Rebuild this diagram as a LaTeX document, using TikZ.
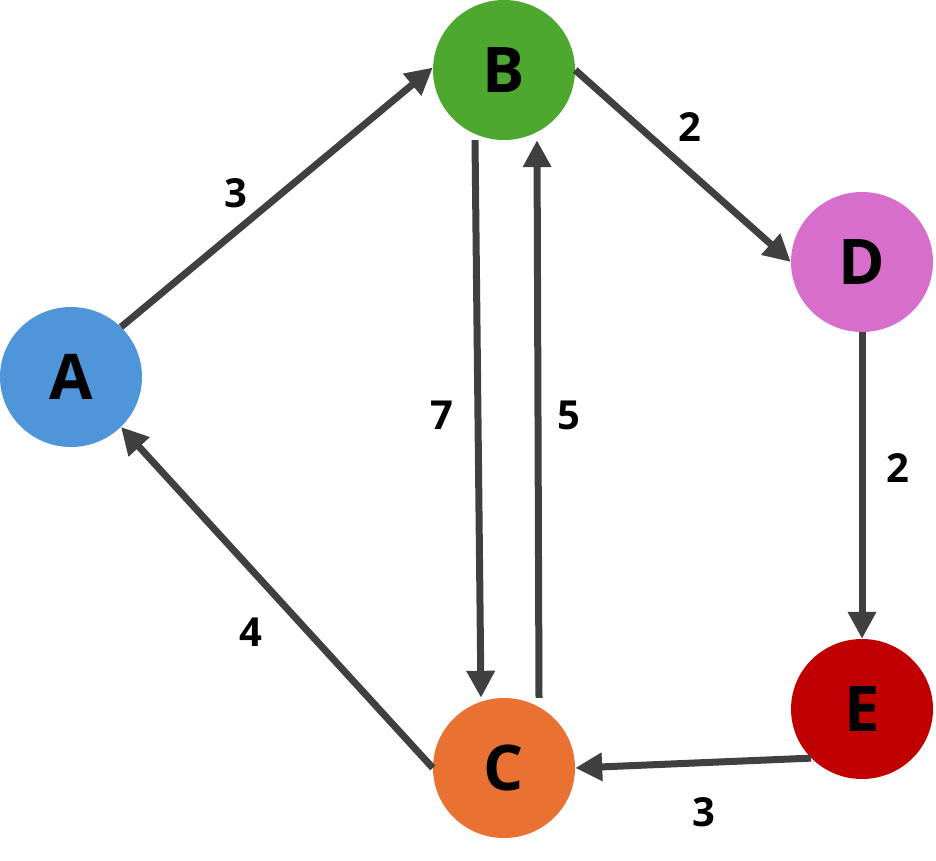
\documentclass[tikz,border=0pt]{standalone}
\usepackage{fontspec}
\setmainfont{Open Sans}
\usetikzlibrary{arrows.meta,shapes.geometric}
\definecolor{nodeA}{HTML}{4E95D9}
\definecolor{nodeB}{HTML}{4EA72E}
\definecolor{nodeC}{HTML}{E97132}
\definecolor{nodeD}{HTML}{D86ECC}
\definecolor{nodeE}{HTML}{C00000}
\definecolor{edgegray}{HTML}{404040}

\begin{document}
\begin{tikzpicture}[x=1pt,y=-1pt,
	vertex/.style={ellipse,minimum width=142pt,minimum height=140pt,inner sep=0pt,
		font=\fontsize{63}{63}\bfseries\selectfont},
	arr/.style={draw=edgegray,line width=7pt,-{Triangle[length=27pt,width=27pt]}},
	weight/.style={inner sep=0pt,font=\fontsize{40}{40}\bfseries\selectfont}]
		\useasboundingbox (0,0) rectangle (936,861);
		% vertices
		\node[vertex,fill=nodeA] (A) at (71,377) {A};
		\node[vertex,fill=nodeB] (B) at (504,70) {B};
		\node[vertex,fill=nodeC] (C) at (504,768) {C};
		\node[vertex,fill=nodeD] (D) at (862,262) {D};
		\node[vertex,fill=nodeE] (E) at (862,709) {E};
		% edges
		\draw[arr] (A.45) -- (B.178);
		\draw[arr] (B.east) -- (D.west);
		\draw[arr] ([xshift=-29pt]B.south) -- ([xshift=-23pt]C.north);
		\draw[arr] ([xshift=35pt]C.north) -- ([xshift=33pt]B.south);
		\draw[arr] (D.south) -- (E.north);
		\draw[arr] (E.224) -- (C.east);
		\draw[arr] (C.west) -- (A.315);
		% weights
		\node[weight] (wAB) at (236,193) {3};
		\node[weight] (wBD) at (690,127) {2};
		\node[weight] (wBC) at (442,415) {7};
		\node[weight] (wCB) at (569,415) {5};
		\node[weight] (wDE) at (898,468) {2};
		\node[weight] (wCA) at (251,632) {4};
		\node[weight] (wEC) at (704,812) {3};
\end{tikzpicture}
\end{document}
